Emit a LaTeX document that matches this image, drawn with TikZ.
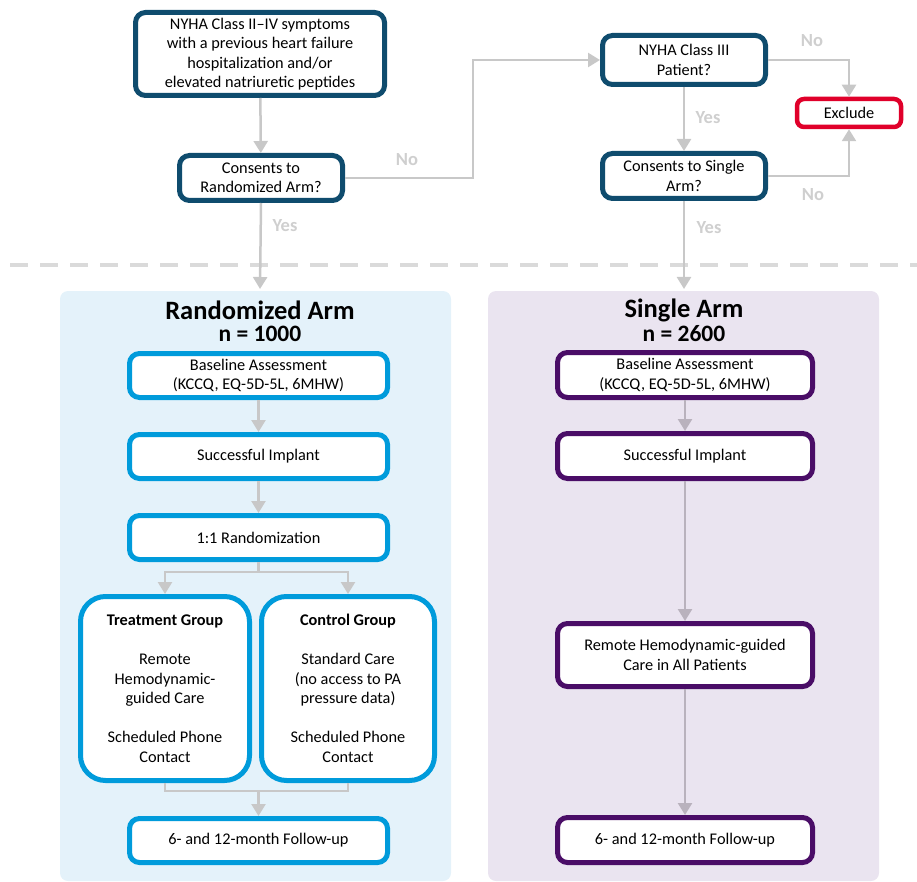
\documentclass[tikz,border=0pt]{standalone}
\usepackage{fontspec}
\setmainfont{Carlito}
\usetikzlibrary{arrows.meta}
\definecolor{qcol}{HTML}{0F4C6E}
\definecolor{bcol}{HTML}{009BDB}
\definecolor{pcol}{HTML}{4A0D67}
\definecolor{xcol}{HTML}{E0002A}
\definecolor{acol}{HTML}{C8C8C8}
\definecolor{apcol}{HTML}{B9B2BD}
\definecolor{lcol}{HTML}{CFCFCF}
\definecolor{dcol}{HTML}{DADADA}
\definecolor{rfill}{HTML}{E4F2FA}
\definecolor{pfill}{HTML}{EAE4F0}
\begin{document}
\begin{tikzpicture}[x=1pt,y=-1pt,
  base/.style={rectangle, rounded corners=10pt, line width=5pt, fill=white, align=center,
    font=\fontsize{16.3}{19.5}\selectfont, inner sep=0pt},
  qbox/.style={base, draw=qcol},
  rbox/.style={base, draw=bcol},
  pbox/.style={base, draw=pcol},
  xbox/.style={base, draw=xcol, line width=4.5pt, rounded corners=7pt},
  gbox/.style={rbox, rounded corners=25pt},
  conn/.style={line width=2.5pt, draw=acol, -{Triangle[width=14pt,length=12pt]}},
  pconn/.style={conn, draw=apcol},
  plain/.style={line width=2.5pt, draw=acol},
  lbl/.style={font=\fontsize{18.5}{18.5}\selectfont\bfseries, text=lcol},
  panel/.style={rectangle, rounded corners=8pt, draw=none, inner sep=0pt},
  ttl/.style={font=\fontsize{26.5}{26.5}\selectfont\bfseries},
  ntl/.style={font=\fontsize{23.5}{23.5}\selectfont\bfseries}
]
\useasboundingbox (0,0) rectangle (917,882);

% dashed separator
\draw[dcol, line width=4pt, dash pattern=on 18pt off 12pt] (10,265) -- (917,265);

% panels
\node[panel, fill=rfill, minimum width=391pt, minimum height=590pt] (rpanel) at (255.5,586) {};
\node[panel, fill=pfill, minimum width=391pt, minimum height=590pt] (spanel) at (683.5,586) {};
\node[ttl] (rtitle) at (260,310) {Randomized Arm};
\node[ntl] (rn) at (260,334) {n = 1000};
\node[ttl] (stitle) at (684,310) {Single Arm};
\node[ntl] (sn) at (684,334) {n = 2600};

% top decision nodes
\node[qbox, minimum width=249pt, minimum height=83pt] (top) at (260,54)
  {NYHA Class II–IV symptoms\\with a previous heart failure\\hospitalization and/or\\elevated natriuretic peptides};
\node[qbox, minimum width=163pt, minimum height=45pt] (crand) at (261,178) {Consents to\\Randomized Arm?};
\node[qbox, minimum width=163pt, minimum height=49pt] (n3) at (684,60) {NYHA Class III\\Patient?};
\node[qbox, minimum width=163pt, minimum height=45pt] (cs) at (684,176) {Consents to Single\\Arm?};
\node[xbox, minimum width=104pt, minimum height=28pt] (excl) at (849,113) {Exclude};

% randomized arm boxes
\node[rbox, minimum width=258pt, minimum height=44pt] (lb) at (258.5,375.5) {Baseline Assessment\\(KCCQ, EQ-5D-5L, 6MHW)};
\node[rbox, minimum width=258pt, minimum height=44pt] (li) at (258.5,456.5) {Successful Implant};
\node[rbox, minimum width=258pt, minimum height=44pt] (lr) at (258.5,537.5) {1:1 Randomization};
\node[gbox, minimum width=169pt, minimum height=184pt] (treat) at (165,688.5)
  {\textbf{Treatment Group}\\[19.5pt]Remote\\Hemodynamic-\\guided Care\\[19.5pt]Scheduled Phone\\Contact};
\node[gbox, minimum width=173pt, minimum height=184pt] (ctrl) at (348,688.5)
  {\textbf{Control Group}\\[19.5pt]Standard Care\\(no access to PA\\pressure data)\\[19.5pt]Scheduled Phone\\Contact};
\node[rbox, minimum width=258pt, minimum height=44pt] (lf) at (258.5,840.5) {6- and 12-month Follow-up};

% single arm boxes
\node[pbox, minimum width=255pt, minimum height=45pt] (sb) at (685,375) {Baseline Assessment\\(KCCQ, EQ-5D-5L, 6MHW)};
\node[pbox, minimum width=255pt, minimum height=45pt] (si) at (685,456) {Successful Implant};
\node[pbox, minimum width=255pt, minimum height=63pt] (sr) at (685,655) {Remote Hemodynamic-guided\\Care in All Patients};
\node[pbox, minimum width=255pt, minimum height=45pt] (sf) at (685,840) {6- and 12-month Follow-up};

% coordinates
\coordinate (b1) at (473,0);
\coordinate (rin) at (260,289);
\coordinate (sin) at (684,289);
\coordinate (split) at (258.5,572);
\coordinate (join) at (258.5,791);

% top connectors
\draw[conn] (top) -- (crand);
\draw[conn] (crand.east) -| (b1 |- n3.west) -- (n3.west);
\draw[conn] (n3.east) -| (excl.north);
\draw[conn] (cs.east) -| (excl.south);
\draw[conn] (n3) -- (cs);
\draw[conn] (crand.south) -- (rin);
\draw[conn] (cs.south) -- (sin);

% labels
\node[lbl] (no1) at (407,160) {No};
\node[lbl] (no2) at (812,41) {No};
\node[lbl] (no3) at (813,195) {No};
\node[lbl] (yes1) at (708,118) {Yes};
\node[lbl] (yes2) at (709,228) {Yes};
\node[lbl] (yes3) at (285,226) {Yes};

% randomized arm connectors
\draw[conn] (lb) -- (li);
\draw[conn] (li) -- (lr);
\draw[plain] (lr.south) -- (split);
\draw[conn] (split) -| (treat.north);
\draw[conn] (split) -| (ctrl.north);
\draw[plain] (treat.south) |- (join);
\draw[plain] (ctrl.south) |- (join);
\draw[conn] (join) -- (lf.north);

% single arm connectors
\draw[pconn] (sb) -- (si);
\draw[pconn] (si) -- (sr);
\draw[pconn] (sr) -- (sf);
\end{tikzpicture}
\end{document}
